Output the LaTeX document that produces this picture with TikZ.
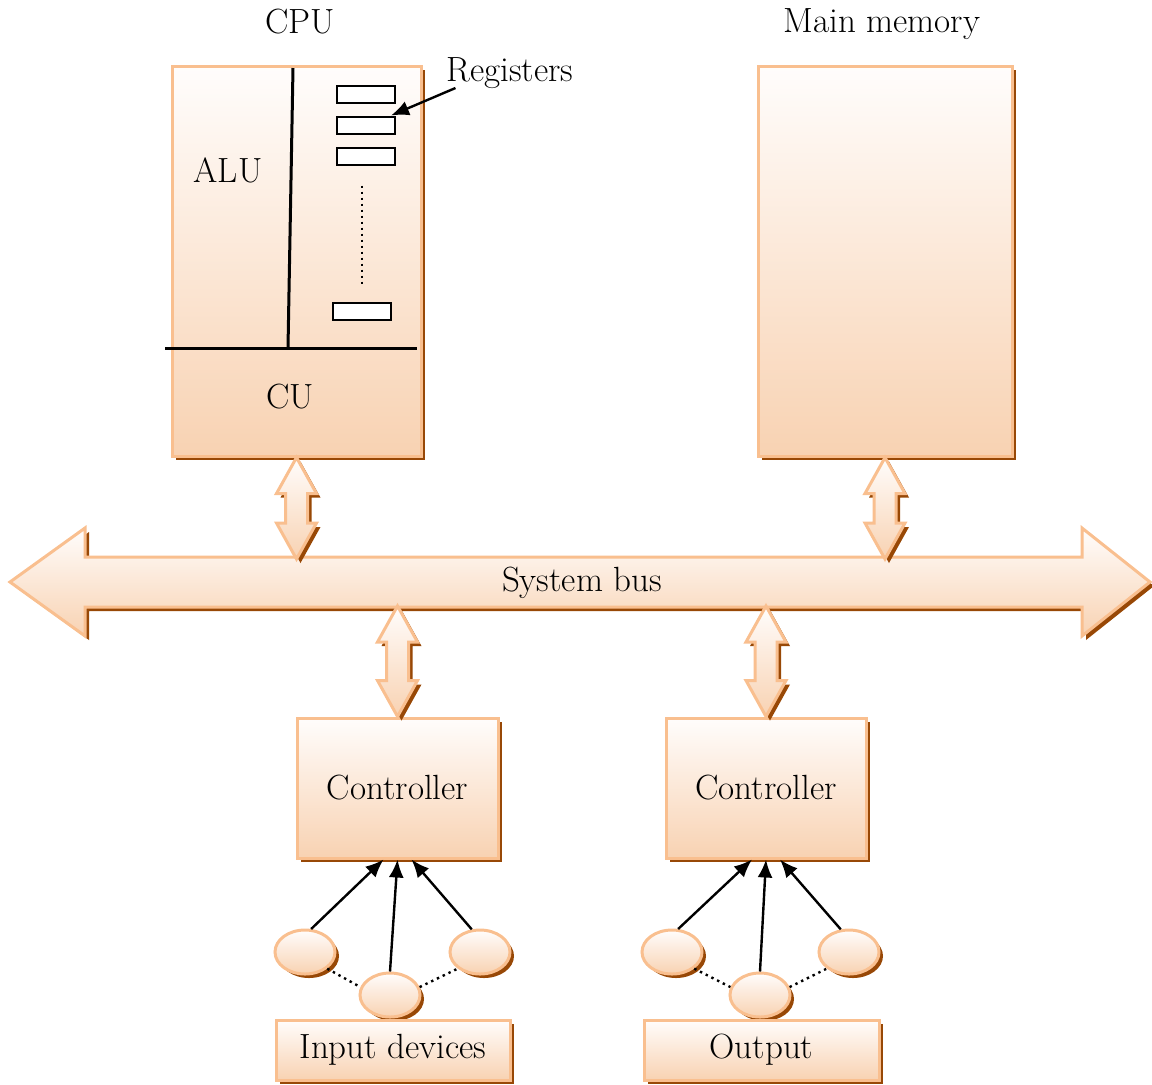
\documentclass[tikz,border=0pt]{standalone}
\usetikzlibrary{shadows,calc,arrows.meta,shapes.geometric}
\definecolor{peachline}{HTML}{F9BF8F}
\definecolor{peachtop}{HTML}{FFFDFC}
\definecolor{peachbottom}{HTML}{F8D2B2}
\definecolor{shadowbrown}{HTML}{984806}
% fat two-headed arrow between two named points (vertical)
\newcommand{\portarrow}[2]{%
  \draw[fatdecorate] let \p1=(#1), \p2=(#2) in
    (\x1,\y1) -- (\x1+10pt,\y1-18pt) -- (\x1+5.5pt,\y1-18pt)
    -- (\x1+5.5pt,\y2+18pt) -- (\x1+10pt,\y2+18pt) -- (\x1,\y2)
    -- (\x1-10pt,\y2+18pt) -- (\x1-5.5pt,\y2+18pt)
    -- (\x1-5.5pt,\y1-18pt) -- (\x1-10pt,\y1-18pt) -- cycle;}
\begin{document}
\begin{tikzpicture}
[x=0.5pt,y=-0.5pt,font=\fontsize{17.5}{21}\selectfont,
  fatdecorate/.style={draw=peachline,line width=1.5pt,line join=miter,
    top color=peachtop,bottom color=peachbottom,
    drop shadow={shadow xshift=2pt,shadow yshift=-2pt,fill=shadowbrown,opacity=1}},
  boxdecorate/.style={fatdecorate,shape=rectangle,inner sep=0pt},
  ellipsedecorate/.style={fatdecorate,shape=ellipse,inner sep=0pt,
    minimum width=30pt,minimum height=22pt},
  regdecorate/.style={draw,line width=1pt,fill=white,minimum width=29pt,
    minimum height=8.5pt,inner sep=0pt},
  linedecorate/.style={line width=1.5pt},
  arrowdecorate/.style={-{Latex[length=9pt,width=7.5pt]},line width=1.2pt}]
\useasboundingbox (0,0) rectangle (1152,1084);
% titles
\node (cputitle) at (300,22) {CPU};
\node (memtitle) at (882,24) {Main memory};
% cpu and memory
\node (cpu) at (296.5,261) [boxdecorate,minimum width=124.5pt,minimum height=195pt] {};
\node (mem) at (885,261) [boxdecorate,minimum width=127pt,minimum height=195pt] {};
\draw[linedecorate] (293,68) -- (288,348);
\draw[linedecorate] (165,348) -- (417,348);
\node (alu) at (228,170) {ALU};
\node (cu) at (290,397) {CU};
% registers
\node (reg1) at (366,94.5) [regdecorate] {};
\node (reg2) at (366,125) [regdecorate] {};
\node (reg3) at (366,156) [regdecorate] {};
\node (regn) at (362,311.5) [regdecorate] {};
\draw[dotted,line width=1pt] ([xshift=-2pt,yshift=-10pt]reg3.south) -- ([xshift=0pt,yshift=8pt]regn.north);
\node (reglabel) at (510,73) {Registers};
\draw[arrowdecorate] ([xshift=8pt,yshift=-7.5pt]reglabel.west) -- ([xshift=-2.5pt]reg2.north east);
% system bus
\draw[fatdecorate] (10,582) -- (85,528) -- (85,557) -- (1082,557) -- (1082,528)
  -- (1150,582) -- (1082,636) -- (1082,607) -- (85,607) -- (85,636) -- cycle;
\node (bus) at (582,583) {System bus};
\coordinate (bustop) at (582,559);
\coordinate (busbot) at (582,606);
% controllers
\node (ctrlin) at (397.5,788) [boxdecorate,minimum width=100.5pt,minimum height=70pt] {Controller};
\node (ctrlout) at (766,788) [boxdecorate,minimum width=100pt,minimum height=70pt] {Controller};
% bus ports
\portarrow{cpu.south}{cpu.south |- bustop}
\portarrow{mem.south}{mem.south |- bustop}
\portarrow{ctrlin.north |- busbot}{ctrlin.north}
\portarrow{ctrlout.north |- busbot}{ctrlout.north}
% devices
\node (in1) at (305,952) [ellipsedecorate] {};
\node (in2) at (390,995) [ellipsedecorate] {};
\node (in3) at (480,952) [ellipsedecorate] {};
\node (out1) at (672,952) [ellipsedecorate] {};
\node (out2) at (760,995) [ellipsedecorate] {};
\node (out3) at (849,952) [ellipsedecorate] {};
\node (inbox) at (393,1050) [boxdecorate,minimum width=117pt,minimum height=30pt] {Input devices};
\node (outbox) at (761.5,1050) [boxdecorate,minimum width=117.5pt,minimum height=30pt] {Output};
% edges or lines
\draw[arrowdecorate] (in1.75) -- ([xshift=-7pt]ctrlin.south);
\draw[arrowdecorate] (in2.north) -- (ctrlin.south);
\draw[arrowdecorate] (in3.110) -- ([xshift=7pt]ctrlin.south);
\draw[arrowdecorate] (out1.75) -- ([xshift=-7pt]ctrlout.south);
\draw[arrowdecorate] (out2.north) -- (ctrlout.south);
\draw[arrowdecorate] (out3.110) -- ([xshift=7pt]ctrlout.south);
\draw[dotted,line width=1.2pt] (in1.south east) -- (in2.165);
\draw[dotted,line width=1.2pt] (in2.15) -- (in3.south west);
\draw[dotted,line width=1.2pt] (out1.south east) -- (out2.165);
\draw[dotted,line width=1.2pt] (out2.15) -- (out3.south west);
\end{tikzpicture}
\end{document}
